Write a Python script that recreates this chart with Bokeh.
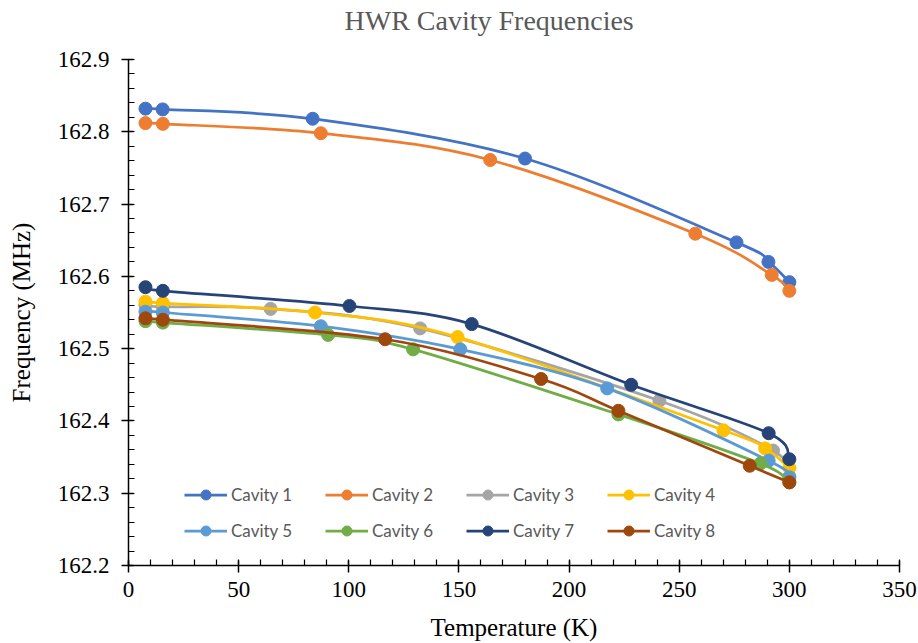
import numpy as np
from bokeh.plotting import figure
from bokeh.models import Range1d, FixedTicker, NumeralTickFormatter, Legend, LegendItem, Title
from bokeh.embed import file_html
from bokeh.resources import INLINE

# ---------------- data ----------------
names = ["Cavity 1", "Cavity 2", "Cavity 3", "Cavity 4",
         "Cavity 5", "Cavity 6", "Cavity 7", "Cavity 8"]
colors = ["#4472C4", "#ED7D31", "#A5A5A5", "#FFC000",
          "#5B9BD5", "#70AD47", "#264478", "#9E480E"]

T1 = [7.7, 15.5, 83.6, 180.0, 276.0, 290.5, 300.0]
F1 = [162.832, 162.831, 162.818, 162.763, 162.647, 162.620, 162.592]
T2 = [7.7, 15.6, 87.3, 164.2, 257.3, 292.0, 300.0]
F2 = [162.812, 162.811, 162.798, 162.761, 162.659, 162.602, 162.580]
T3 = [7.7, 15.6, 64.5, 132.4, 241.0, 292.6, 300.0]
F3 = [162.560, 162.558, 162.555, 162.528, 162.428, 162.359, 162.323]
T4 = [7.7, 15.6, 84.7, 149.4, 270.1, 289.0, 300.0]
F4 = [162.565, 162.563, 162.550, 162.516, 162.387, 162.362, 162.335]
T5 = [7.7, 15.6, 87.3, 150.6, 217.3, 290.6, 300.0]
F5 = [162.551, 162.550, 162.531, 162.499, 162.445, 162.345, 162.322]
T6 = [7.7, 15.6, 90.6, 129.2, 222.4, 286.8, 300.0]
F6 = [162.538, 162.536, 162.519, 162.499, 162.409, 162.341, 162.315]
T7 = [7.7, 15.6, 100.3, 155.8, 228.2, 290.6, 300.0]
F7 = [162.585, 162.580, 162.559, 162.534, 162.450, 162.383, 162.347]
T8 = [7.7, 15.6, 116.5, 187.3, 222.4, 282.0, 300.0]
F8 = [162.542, 162.540, 162.513, 162.458, 162.414, 162.338, 162.315]

temps = [T1, T2, T3, T4, T5, T6, T7, T8]
freqs = [F1, F2, F3, F4, F5, F6, F7, F8]

x_ticks = [0, 50, 100, 150, 200, 250, 300, 350]
y_ticks = [162.2, 162.3, 162.4, 162.5, 162.6, 162.7, 162.8, 162.9]


def smooth_controls(xs, ys):
    """Bezier control points for a smoothed (Catmull-Rom style) curve through the points."""
    n = len(xs)
    x0, y0, x1, y1, cx0, cy0, cx1, cy1 = [], [], [], [], [], [], [], []
    for i in range(n - 1):
        xa, ya = xs[i], ys[i]
        xb, yb = xs[i + 1], ys[i + 1]
        xp, yp = (xs[i - 1], ys[i - 1]) if i > 0 else (xa, ya)
        xn, yn = (xs[i + 2], ys[i + 2]) if i + 2 < n else (xb, yb)
        x0.append(xa); y0.append(ya); x1.append(xb); y1.append(yb)
        cx0.append(xa + (xb - xp) / 6.0); cy0.append(ya + (yb - yp) / 6.0)
        cx1.append(xb - (xn - xa) / 6.0); cy1.append(yb - (yn - ya) / 6.0)
    return dict(x0=x0, y0=y0, x1=x1, y1=y1, cx0=cx0, cy0=cy0, cx1=cx1, cy1=cy1)


p = figure(width=918, height=643, output_backend="svg", toolbar_location=None,
           x_range=Range1d(0, 350), y_range=Range1d(162.2, 162.9),
           min_border_left=128, min_border_right=19, min_border_top=59, min_border_bottom=77)
p.outline_line_color = None
p.grid.visible = False
p.background_fill_color = "white"
p.border_fill_color = "white"

# spacer between frame and title
p.add_layout(Title(text=" ", text_font_size="1px", standoff=15), "above")

# title
p.title.text = "HWR Cavity Frequencies"
p.title.text_font = "Liberation Serif"
p.title.text_font_style = "normal"
p.title.text_font_size = "28px"
p.title.text_color = "#595959"
p.title.align = "left"
p.title.offset = 216
p.title.vertical_align = "top"
p.title.standoff = 8

serif = "Liberation Serif"
xa = p.xaxis[0]
ya = p.yaxis[0]
xa.ticker = FixedTicker(ticks=x_ticks, minor_ticks=list(range(0, 351, 10)))
ya.ticker = FixedTicker(ticks=y_ticks, minor_ticks=[round(162.2 + 0.02 * k, 2) for k in range(36)])
ya.formatter = NumeralTickFormatter(format="0.0")
xa.axis_label = "Temperature (K)"
ya.axis_label = "Frequency (MHz)"
for ax in (xa, ya):
    ax.axis_line_color = "black"
    ax.axis_line_width = 1.5
    ax.major_tick_line_color = "black"
    ax.major_tick_line_width = 1.5
    ax.minor_tick_line_color = "black"
    ax.minor_tick_line_width = 1.2
    ax.major_tick_in = 5
    ax.major_tick_out = 7
    ax.minor_tick_in = 6
    ax.minor_tick_out = 0
    ax.major_label_text_font = serif
    ax.major_label_text_font_size = "23px"
    ax.major_label_text_color = "black"
    ax.axis_label_text_font = serif
    ax.axis_label_text_font_style = "normal"
    ax.axis_label_text_font_size = "25px"
    ax.axis_label_text_color = "black"
xa.major_label_standoff = 9
ya.major_label_standoff = 12
xa.axis_label_standoff = 14
ya.axis_label_standoff = 20

items = []
for name, c, T, F in zip(names, colors, temps, freqs):
    seg = smooth_controls(T, F)
    p.bezier(x0=seg["x0"], y0=seg["y0"], x1=seg["x1"], y1=seg["y1"],
             cx0=seg["cx0"], cy0=seg["cy0"], cx1=seg["cx1"], cy1=seg["cy1"],
             line_color=c, line_width=2.75)
    rl = p.line(T, F, line_color=c, line_width=2.75, visible=False)
    rs = p.scatter(T, F, size=13, fill_color=c, line_color=c, line_width=1)
    items.append(LegendItem(label=name, renderers=[rl, rs]))

# legend fills column by column: order so rows read Cavity 1-4 / Cavity 5-8
order = [0, 4, 1, 5, 2, 6, 3, 7]
legend = Legend(items=[items[i] for i in order], ncols=4, location=(56, 22))
legend.background_fill_alpha = 0
legend.border_line_alpha = 0
legend.padding = 0
legend.margin = 0
legend.spacing = 11
legend.glyph_width = 43
legend.glyph_height = 25
legend.label_height = 25
legend.label_width = 83
legend.label_standoff = 4
legend.label_text_font = "Lato"
legend.label_text_font_size = "17px"
legend.label_text_color = "#595959"
legend.inactive_fill_alpha = 0
p.add_layout(legend)

open("out.html", "w").write(file_html(p, INLINE))
